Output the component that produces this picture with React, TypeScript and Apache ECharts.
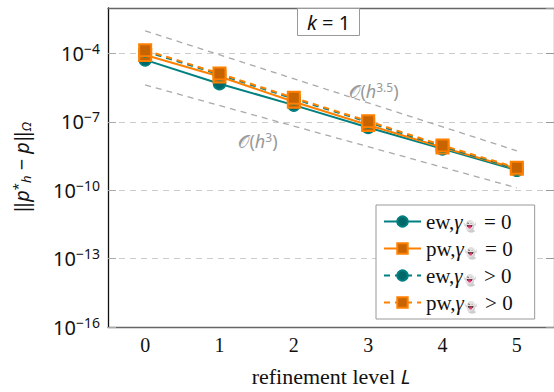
import React, { useEffect, useRef } from 'react';
import * as echarts from 'echarts';

const levels = ['0', '1', '2', '3', '4', '5'];
const ewZero = [5.3e-5, 4.75e-6, 5.47e-7, 5.7e-8, 6.56e-9, 7.55e-10];
const pwZero = [8.6e-5, 9.9e-6, 7.7e-7, 7.3e-8, 7.6e-9, 8.75e-10];
const ewPos = [1.28e-4, 1.21e-5, 1.04e-6, 9.8e-8, 8.4e-9, 8.75e-10];
const pwPos = [1.41e-4, 1.33e-5, 1.14e-6, 1.08e-7, 9.3e-9, 9.7e-10];
const refH35 = [[0, 1e-3], [5, 5.4e-9]];
const refH3 = [[0, 4.2e-6], [5, 1.28e-10]];

const legendLabels: Record<string, [string, string]> = {
  ew0: ['ew,', '='],
  pw0: ['pw,', '='],
  ewp: ['ew,', '>'],
  pwp: ['pw,', '>'],
};

const TEAL = '#008080';
const TEAL_FILL = '#006868';
const ORANGE = '#ff8000';
const ORANGE_FILL = '#c86400';
const SANS = 'Noto Sans';
const SERIF = 'Liberation Serif';

export default function App() {
  const ref = useRef<HTMLDivElement>(null);
  useEffect(() => {
    if (!ref.current) return;
    const chart = echarts.init(ref.current, undefined, { renderer: 'svg' });
    const tealItem = { color: TEAL_FILL, borderColor: TEAL, borderWidth: 1.5 };
    const orangeItem = { color: ORANGE_FILL, borderColor: ORANGE, borderWidth: 2 };
    const yLabelRich = {
      b: { fontFamily: SANS, fontSize: 20, color: '#111' },
      s: { fontFamily: SANS, fontSize: 14, color: '#111', verticalAlign: 'top', padding: [0, 0, 10, 0] },
    };
    const yAxisBase = {
      type: 'log',
      logBase: 10,
      min: 1e-16,
      max: 1e-2,
      interval: 3,
    };
    const option: any = {
      animation: false,
      title: {
        text: '{i|k}{n| = 1}',
        left: 297,
        top: 8,
        padding: [4, 10, 4, 10],
        borderColor: '#999',
        borderWidth: 1,
        backgroundColor: '#fff',
        textStyle: {
          fontWeight: 'normal',
          rich: {
            i: { fontFamily: SANS, fontStyle: 'italic', fontWeight: 'normal', fontSize: 20, color: '#111' },
            n: { fontFamily: SANS, fontWeight: 'normal', fontSize: 20, color: '#111' },
          },
        },
      },
      grid: { left: 108, top: 8, width: 449.5, height: 328, containLabel: false },
      legend: {
        data: ['ew0', 'pw0', 'ewp', 'pwp'],
        orient: 'vertical',
        left: 376,
        top: 205,
        itemWidth: 37,
        itemHeight: 13,
        itemGap: 6,
        padding: [6, 22, 6, 7],
        borderColor: '#999',
        borderWidth: 1,
        backgroundColor: '#fff',
        selectedMode: false,
        formatter: (name: string) => {
          const [a, op] = legendLabels[name];
          return `{r|${a}}{g|γ}{s|👻}{r| ${op} 0}`;
        },
        textStyle: {
          fontFamily: SERIF,
          fontSize: 21,
          color: '#111',
          lineHeight: 20,
          rich: {
            r: { fontFamily: SERIF, fontSize: 21, color: '#111', lineHeight: 20 },
            g: { fontFamily: SERIF, fontSize: 21, fontStyle: 'italic', color: '#111', lineHeight: 20 },
            s: { fontSize: 11, verticalAlign: 'bottom', lineHeight: 20, padding: [8, 2, 0, 0] },
          },
        },
      },
      xAxis: [
        {
          type: 'category',
          data: levels,
          boundaryGap: true,
          position: 'bottom',
          name: '{t|refinement level }{i|L}',
          nameLocation: 'middle',
          nameGap: 38,
          nameTextStyle: {
            rich: {
              t: { fontFamily: SERIF, fontSize: 22, color: '#111' },
              i: { fontFamily: SANS, fontStyle: 'italic', fontSize: 20, color: '#111' },
            },
          },
          axisLine: { lineStyle: { color: '#666', width: 1.3 } },
          axisTick: { inside: true, length: 8, alignWithLabel: true, lineStyle: { color: '#aaa' } },
          axisLabel: { fontFamily: SERIF, fontSize: 20, color: '#111', margin: 8 },
          splitLine: { show: false },
        },
        {
          type: 'category',
          data: levels,
          boundaryGap: true,
          position: 'top',
          axisLine: { lineStyle: { color: '#666', width: 1.3 } },
          axisTick: { inside: true, length: 8, alignWithLabel: true, lineStyle: { color: '#aaa' } },
          axisLabel: { show: false },
          splitLine: { show: false },
        },
      ],
      yAxis: [
        {
          ...yAxisBase,
          position: 'left',
          name: '{n|‖}{i|p}{sup|*}{sub|h}{n| − }{i|p}{n|‖}{sub|Ω}',
          nameLocation: 'middle',
          nameRotate: 90,
          nameGap: 76,
          nameTextStyle: {
            rich: {
              n: { fontFamily: SANS, fontSize: 20, color: '#111' },
              i: { fontFamily: SANS, fontStyle: 'italic', fontSize: 20, color: '#111' },
              sup: { fontFamily: SANS, fontSize: 13, color: '#111', verticalAlign: 'top', padding: [0, 0, 8, 0] },
              sub: { fontFamily: SANS, fontStyle: 'italic', fontSize: 13, color: '#111', verticalAlign: 'bottom', padding: [8, 0, 0, 0] },
            },
          },
          axisLine: { show: true, lineStyle: { color: '#111', width: 1.3 } },
          axisTick: { show: true, inside: true, length: 8, lineStyle: { color: '#aaa' } },
          axisLabel: {
            margin: 8,
            showMaxLabel: false,
            formatter: (v: number) => {
              const e = Math.round(Math.log10(v));
              return `{b|10}{s|−${Math.abs(e)}}`;
            },
            rich: yLabelRich,
          },
          splitLine: { show: true, lineStyle: { color: '#ccc', width: 1, type: [6, 5] } },
        },
        {
          ...yAxisBase,
          position: 'right',
          axisLine: { show: true, lineStyle: { color: '#666', width: 1.3 } },
          axisTick: { show: true, inside: true, length: 8, lineStyle: { color: '#999' } },
          axisLabel: { show: false },
          splitLine: { show: false },
        },
      ],
      graphic: [
        {
          type: 'text',
          x: 374,
          y: 91,
          style: {
            text: '{o|𝒪}{n|(}{i|h}{s|3.5}{n|)}',
            align: 'center',
            verticalAlign: 'middle',
            rich: {
              o: { fontFamily: 'DejaVu Sans', fontSize: 18, fill: '#999' },
              n: { fontFamily: SANS, fontSize: 18, fill: '#999' },
              i: { fontFamily: SANS, fontStyle: 'italic', fontSize: 18, fill: '#999' },
              s: { fontFamily: SANS, fontSize: 12, fill: '#999', verticalAlign: 'top', padding: [0, 0, 8, 0] },
            },
          },
          z: 10,
        },
        {
          type: 'text',
          x: 258,
          y: 141,
          style: {
            text: '{o|𝒪}{n|(}{i|h}{s|3}{n|)}',
            align: 'center',
            verticalAlign: 'middle',
            rich: {
              o: { fontFamily: 'DejaVu Sans', fontSize: 18, fill: '#999' },
              n: { fontFamily: SANS, fontSize: 18, fill: '#999' },
              i: { fontFamily: SANS, fontStyle: 'italic', fontSize: 18, fill: '#999' },
              s: { fontFamily: SANS, fontSize: 12, fill: '#999', verticalAlign: 'top', padding: [0, 0, 8, 0] },
            },
          },
          z: 10,
        },
      ],
      series: [
        {
          name: 'refH35',
          type: 'line',
          data: refH35,
          symbol: 'none',
          silent: true,
          lineStyle: { color: '#aaa', width: 1.3, type: [6, 5] },
          z: 1,
        },
        {
          name: 'refH3',
          type: 'line',
          data: refH3,
          symbol: 'none',
          silent: true,
          lineStyle: { color: '#aaa', width: 1.3, type: [6, 5] },
          z: 1,
        },
        {
          name: 'ew0',
          type: 'line',
          data: ewZero,
          symbol: 'circle',
          symbolSize: 12,
          itemStyle: tealItem,
          lineStyle: { color: TEAL, width: 2 },
          color: TEAL,
        },
        {
          name: 'pw0',
          type: 'line',
          data: pwZero,
          symbol: 'rect',
          symbolSize: 12,
          itemStyle: orangeItem,
          lineStyle: { color: ORANGE, width: 2 },
          color: ORANGE,
        },
        {
          name: 'ewp',
          type: 'line',
          data: ewPos,
          symbol: 'circle',
          symbolSize: 12,
          itemStyle: tealItem,
          lineStyle: { color: TEAL, width: 2, type: [6, 5] },
          color: TEAL,
        },
        {
          name: 'pwp',
          type: 'line',
          data: pwPos,
          symbol: 'rect',
          symbolSize: 12,
          itemStyle: orangeItem,
          lineStyle: { color: ORANGE, width: 2, type: [6, 5] },
          color: ORANGE,
        },
      ],
    };
    chart.setOption(option);
    return () => chart.dispose();
  }, []);
  return (
    <div
      ref={ref}
      style={{ position: 'fixed', left: 0, top: 0, width: 554, height: 392, background: '#fff' }}
    />
  );
}
